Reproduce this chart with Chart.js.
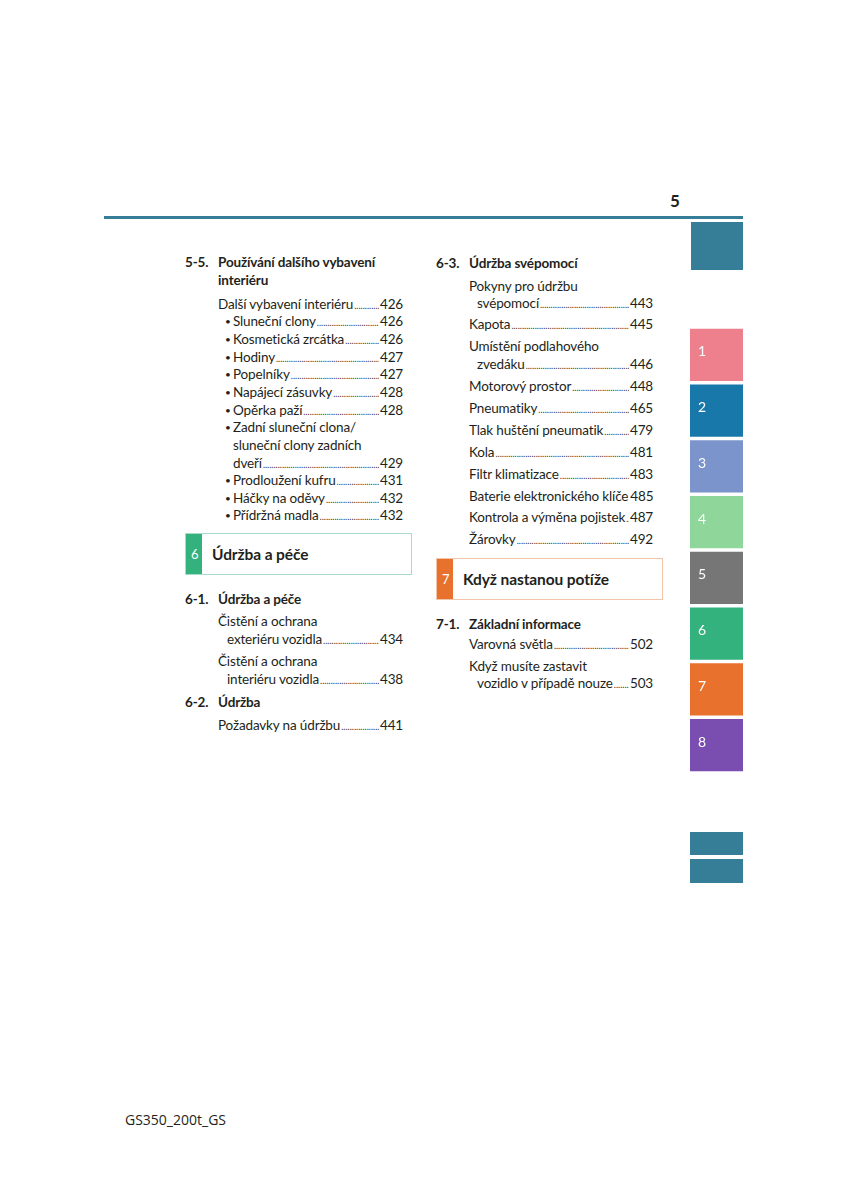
<!DOCTYPE html>
<html>
<head>
<meta charset="utf-8">
<script src="https://cdn.jsdelivr.net/npm/chart.js@4.4.0/dist/chart.umd.min.js"></script>
<style>
  html, body { margin: 0; padding: 0; background: #fff; }
  body { width: 848px; height: 1200px; position: relative; overflow: hidden;
         font-family: Lato, "Open Sans", sans-serif; color: #231f20; }
  .ln { position: absolute; height: 18px; line-height: 18px; font-size: 13.5px;
        letter-spacing: -0.15px; white-space: nowrap; }
  .h { font-weight: 700; }
  .row { display: flex; align-items: baseline; }
  .row i { flex: 1; overflow: hidden; font-style: normal; margin: 0 1px 0 1px; color: #333; }
  .row i::after { content: "........................................................................................................................"; letter-spacing: 0; font-size: 9px; }
  .blt::before { content: "•"; position: absolute; left: -8px; font-size: 10px; }
  .box { position: absolute; height: 40px; width: 225px; background: #fff; }
  .box .strip { position: absolute; left: 0; top: 0; bottom: 0; width: 16px; }
  .box .no { position: absolute; left: 5px; top: 11px; color: #fff; font-size: 13px; line-height: 18px; }
  .box .tt { position: absolute; left: 26px; top: 10px; font-size: 15.5px; font-weight: 700; line-height: 20px; letter-spacing: -0.1px; }
  .teal { position: absolute; background: #367e97; }
  #tabs { position: absolute; left: 690px; top: 327px; width: 53px; height: 446px; }
</style>
</head>
<body>
  <div style="position:absolute;left:670px;top:190px;font:700 17px Lato,sans-serif;">5</div>
  <div class="teal" style="left:104px;top:216px;width:639px;height:3px;"></div>
  <div class="teal" style="left:691px;top:222px;width:52px;height:48px;"></div>
  <div class="teal" style="left:690px;top:832px;width:53px;height:23px;"></div>
  <div class="teal" style="left:690px;top:859px;width:53px;height:24px;"></div>

  <!-- left column -->
  <div class="ln h" style="left:185px;top:253px;">5-5.</div>
  <div class="ln h" style="left:218px;top:253px;">Používání dalšího vybavení</div>
  <div class="ln h" style="left:218px;top:271px;">interiéru</div>
  <div class="ln row" style="left:218px;top:294.5px;width:185px;"><span>Další vybavení interiéru</span><i></i><span>426</span></div>
  <div class="ln row blt" style="left:233px;top:312px;width:170px;"><span>Sluneční clony</span><i></i><span>426</span></div>
  <div class="ln row blt" style="left:233px;top:330px;width:170px;"><span>Kosmetická zrcátka</span><i></i><span>426</span></div>
  <div class="ln row blt" style="left:233px;top:347.5px;width:170px;"><span>Hodiny</span><i></i><span>427</span></div>
  <div class="ln row blt" style="left:233px;top:365px;width:170px;"><span>Popelníky</span><i></i><span>427</span></div>
  <div class="ln row blt" style="left:233px;top:383px;width:170px;"><span>Napájecí zásuvky</span><i></i><span>428</span></div>
  <div class="ln row blt" style="left:233px;top:400.5px;width:170px;"><span>Opěrka paží</span><i></i><span>428</span></div>
  <div class="ln blt" style="left:233px;top:418px;">Zadní sluneční clona/</div>
  <div class="ln" style="left:233px;top:436px;">sluneční clony zadních</div>
  <div class="ln row" style="left:233px;top:453.5px;width:170px;"><span>dveří</span><i></i><span>429</span></div>
  <div class="ln row blt" style="left:233px;top:471px;width:170px;"><span>Prodloužení kufru</span><i></i><span>431</span></div>
  <div class="ln row blt" style="left:233px;top:488.5px;width:170px;"><span>Háčky na oděvy</span><i></i><span>432</span></div>
  <div class="ln row blt" style="left:233px;top:506px;width:170px;"><span>Přídržná madla</span><i></i><span>432</span></div>

  <div class="box" style="left:185px;top:533px;border:1px solid #a9dcc6;">
    <div class="strip" style="background:#33b27e;"></div>
    <div class="no">6</div>
    <div class="tt">Údržba a péče</div>
  </div>

  <div class="ln h" style="left:185px;top:590px;">6-1.</div>
  <div class="ln h" style="left:218px;top:590px;">Údržba a péče</div>
  <div class="ln" style="left:218px;top:612px;">Čistění a ochrana</div>
  <div class="ln row" style="left:227px;top:630px;width:176px;"><span>exteriéru vozidla</span><i></i><span>434</span></div>
  <div class="ln" style="left:218px;top:652px;">Čistění a ochrana</div>
  <div class="ln row" style="left:227px;top:669.5px;width:176px;"><span>interiéru vozidla</span><i></i><span>438</span></div>
  <div class="ln h" style="left:185px;top:693px;">6-2.</div>
  <div class="ln h" style="left:218px;top:693px;">Údržba</div>
  <div class="ln row" style="left:218px;top:715.5px;width:185px;"><span>Požadavky na údržbu</span><i></i><span>441</span></div>

  <!-- right column -->
  <div class="ln h" style="left:436px;top:253.5px;">6-3.</div>
  <div class="ln h" style="left:469px;top:253.5px;">Údržba svépomocí</div>
  <div class="ln" style="left:469px;top:276.5px;">Pokyny pro údržbu</div>
  <div class="ln row" style="left:477px;top:293.5px;width:176px;"><span>svépomocí</span><i></i><span>443</span></div>
  <div class="ln row" style="left:469px;top:315px;width:184px;"><span>Kapota</span><i></i><span>445</span></div>
  <div class="ln" style="left:469px;top:337px;">Umístění podlahového</div>
  <div class="ln row" style="left:477px;top:354.5px;width:176px;"><span>zvedáku</span><i></i><span>446</span></div>
  <div class="ln row" style="left:469px;top:376.5px;width:184px;"><span>Motorový prostor</span><i></i><span>448</span></div>
  <div class="ln row" style="left:469px;top:399px;width:184px;"><span>Pneumatiky</span><i></i><span>465</span></div>
  <div class="ln row" style="left:469px;top:421px;width:184px;"><span>Tlak huštění pneumatik</span><i></i><span>479</span></div>
  <div class="ln row" style="left:469px;top:443px;width:184px;"><span>Kola</span><i></i><span>481</span></div>
  <div class="ln row" style="left:469px;top:465px;width:184px;"><span>Filtr klimatizace</span><i></i><span>483</span></div>
  <div class="ln row" style="left:469px;top:486.5px;width:184px;"><span>Baterie elektronického klíče</span><i></i><span>485</span></div>
  <div class="ln row" style="left:469px;top:508px;width:184px;"><span>Kontrola a výměna pojistek</span><i></i><span>487</span></div>
  <div class="ln row" style="left:469px;top:530px;width:184px;"><span>Žárovky</span><i></i><span>492</span></div>

  <div class="box" style="left:436px;top:558px;border:1px solid #f2c5a8;">
    <div class="strip" style="background:#e8712e;"></div>
    <div class="no">7</div>
    <div class="tt">Když nastanou potíže</div>
  </div>

  <div class="ln h" style="left:436px;top:615px;">7-1.</div>
  <div class="ln h" style="left:469px;top:615px;">Základní informace</div>
  <div class="ln row" style="left:469px;top:635px;width:184px;"><span>Varovná světla</span><i></i><span>502</span></div>
  <div class="ln" style="left:469px;top:657px;">Když musíte zastavit</div>
  <div class="ln row" style="left:477px;top:674px;width:176px;"><span>vozidlo v případě nouze</span><i></i><span>503</span></div>

  <div style="position:absolute;left:125px;top:1110px;font:14px 'Open Sans',sans-serif;line-height:20px;">GS350_200t_GS</div>

  <div id="tabs"><canvas id="tabsChart"></canvas></div>

<script>
// chapter tabs on the right edge
const tabLabels = ["1", "2", "3", "4", "5", "6", "7", "8"];
const tabValues = [1, 1, 1, 1, 1, 1, 1, 1];
const tabColors = ["#ee7f8d", "#1878a9", "#7b94cb", "#8ed69a", "#767676", "#33b27e", "#e8712e", "#7a4db1"];

const tabNumbers = {
  id: "tabNumbers",
  afterDatasetsDraw(chart) {
    const ctx = chart.ctx;
    const meta = chart.getDatasetMeta(0);
    ctx.save();
    ctx.fillStyle = "#fff";
    ctx.font = "14px Lato, sans-serif";
    ctx.textBaseline = "middle";
    meta.data.forEach((bar, i) => {
      ctx.fillText(tabLabels[i], bar.base + 8, bar.y - 3);
    });
    ctx.restore();
  },
};

new Chart(document.getElementById("tabsChart"), {
  type: "bar",
  data: {
    labels: tabLabels,
    datasets: [
      {
        data: tabValues,
        backgroundColor: tabColors,
        borderWidth: 0,
        barPercentage: 0.933,
        categoryPercentage: 1,
      },
    ],
  },
  options: {
    indexAxis: "y",
    responsive: true,
    maintainAspectRatio: false,
    animation: false,
    layout: { padding: 0 },
    plugins: { legend: { display: false }, tooltip: { enabled: false } },
    scales: {
      x: { display: false, min: 0, max: 1 },
      y: { display: false },
    },
  },
  plugins: [tabNumbers],
});
</script>
</body>
</html>
